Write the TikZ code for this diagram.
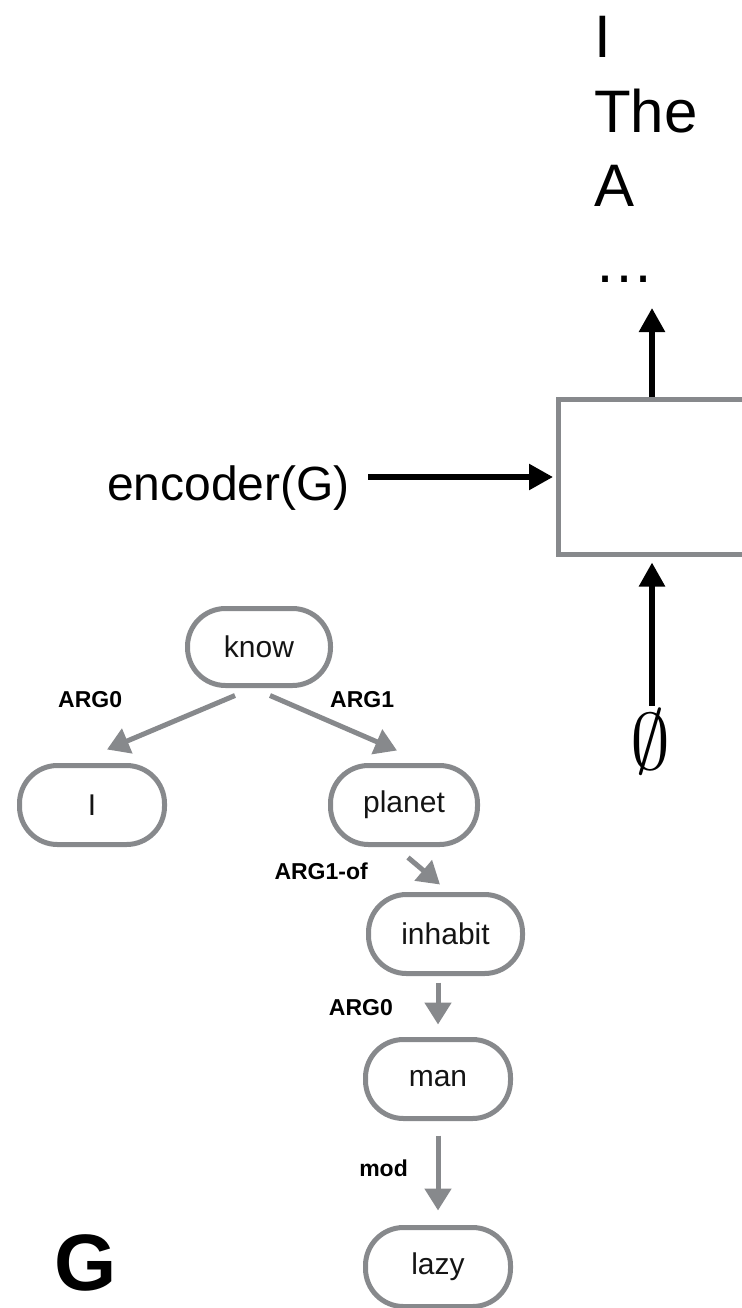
\documentclass[tikz,border=0pt]{standalone}
\usepackage{fontspec}
\usepackage{graphicx}
\setmainfont{Liberation Sans}
\usetikzlibrary{arrows.meta,calc}
\definecolor{amrgray}{RGB}{135,137,140}
\definecolor{txt}{RGB}{20,20,20}
\begin{document}
\begin{tikzpicture}[x=1pt,y=-1pt,
  amrnode/.style={draw=amrgray, line width=5pt, rounded corners=38pt,
    minimum height=79pt, minimum width=145pt, inner sep=0pt,
    font=\fontsize{30}{30}\selectfont, text=txt},
  edgelbl/.style={inner sep=0pt, font=\fontsize{23}{23}\selectfont\bfseries},
  amredge/.style={draw=amrgray, line width=5pt,
    -{Triangle[length=22pt,width=26pt]}},
  blkarrow/.style={draw=black, line width=5.5pt,
    -{Triangle[length=24pt,width=25pt]}},
  bigword/.style={inner sep=0pt, anchor=base west, font=\fontsize{60}{60}\selectfont},
  decbox/.style={draw=amrgray, line width=5pt, minimum width=201.5pt,
    minimum height=155pt, inner sep=0pt}
]
\useasboundingbox (0,0) rectangle (741,1308);

% output words
\node[bigword] (w1) at (594,58) {I};
\node[bigword] (w2) at (594,133) {The};
\node[bigword] (w3) at (594,207) {A};
\node[bigword] (w4) at (594,282) {…};

% decoder box
\node[decbox] (box) at (659.25,477) {};
\coordinate (ax) at (652,0);
\coordinate (outtip) at (652,308);
\draw[blkarrow] (box.north -| ax) -- (outtip);

% encoder input
\node[inner sep=0pt, anchor=base east, font=\fontsize{48}{48}\selectfont] (enc) at (350,500) {encoder(G)};
\draw[blkarrow, shorten >=3pt] ($(enc.east |- box.west)+(18,0)$) -- (box.west);

% empty set input
\node[inner sep=0pt, anchor=base] (empty) at (650,769) {\scalebox{8}{$\emptyset$}};
\draw[blkarrow] ($(empty.north -| ax)+(0,-3)$) -- ($(box.south -| ax)+(0,5.5)$);

% AMR graph
\node[amrnode, minimum width=143pt, minimum height=77pt] (know) at (259,647) {know};
\node[amrnode] (nI) at (92,805) {I};
\node[amrnode, minimum width=147pt] (planet) at (404,805) {planet};
\node[amrnode, minimum width=154pt] (inhabit) at (445.5,934) {inhabit};
\node[amrnode] (man) at (438,1079) {man};
\node[amrnode] (lazy) at (438,1267) {lazy};

\draw[amredge] ($(know.south)+(-24,7.5)$) -- ($(nI.north)+(15,-13.5)$);
\draw[amredge] ($(know.south)+(11,7.5)$) -- ($(planet.north)+(-7,-12.5)$);
\draw[amredge] ($(planet.south)+(4,10.5)$) -- ($(inhabit.north)+(-5.5,-7.5)$);
\draw[amredge] ($(inhabit.south -| man.north)+(0,6.5)$) -- ($(man.north)+(0,-12.5)$);
\draw[amredge] ($(man.south)+(0,14.5)$) -- ($(lazy.north)+(0,-14.5)$);

\node[edgelbl, anchor=base west] (l1) at (58,707) {ARG0};
\node[edgelbl, anchor=base west] (l2) at (330,707) {ARG1};
\node[edgelbl, anchor=base east] (l3) at (368,879) {ARG1-of};
\node[edgelbl, anchor=base east] (l4) at (393,1015) {ARG0};
\node[edgelbl, anchor=base east] (l5) at (408,1176) {mod};

\node[inner sep=0pt, anchor=base west, font=\fontsize{80}{80}\selectfont\bfseries] (G) at (54.5,1290) {G};
\end{tikzpicture}
\end{document}
